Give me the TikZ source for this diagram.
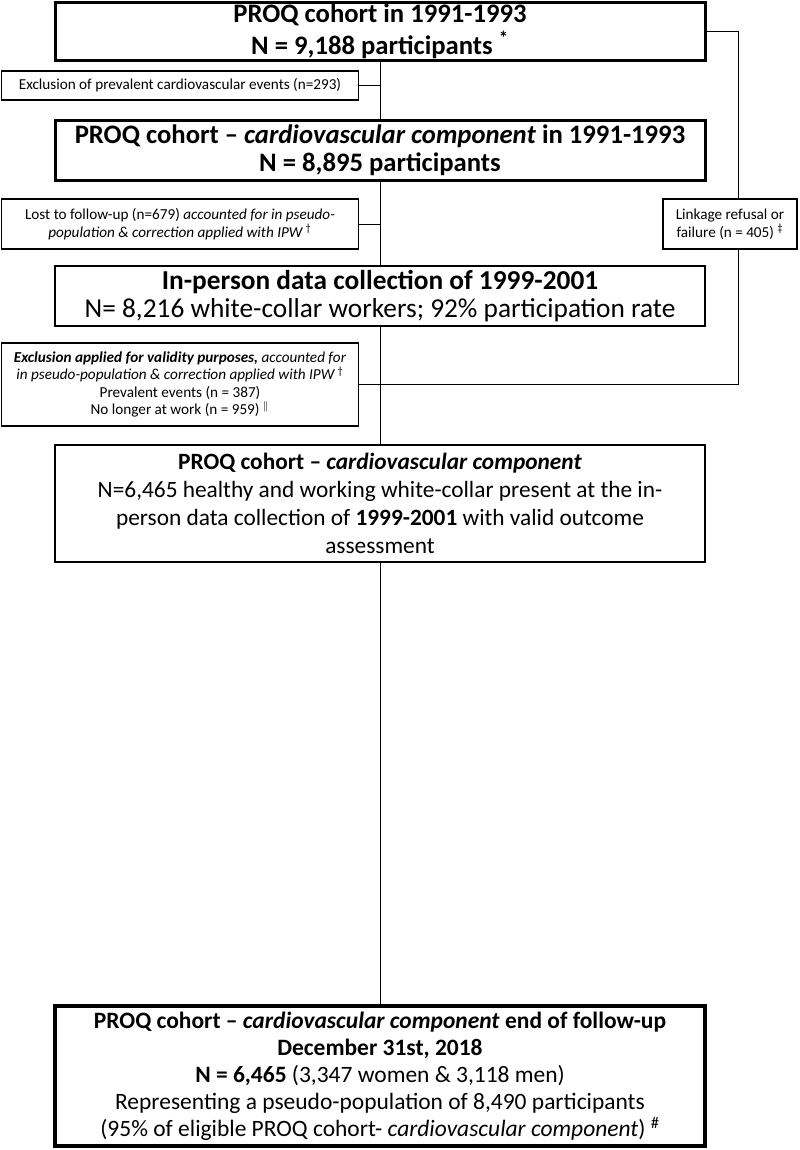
\documentclass[tikz,border=0pt]{standalone}
\usepackage{fontspec}
\setmainfont{Carlito}
\begin{document}
\begin{tikzpicture}[x=0.75pt, y=-0.75pt,
  mainbox/.style={draw, line width=1pt, fill=white, align=center, inner sep=1pt, minimum width=487.5pt},
  sidebox/.style={draw, line width=1pt, fill=white, align=center, inner sep=1pt, font=\fontsize{11.4}{13.2}\selectfont},
  conn/.style={line width=0.75pt}]
  \useasboundingbox (0,0) rectangle (800,1150);

  % Main column
  \node[mainbox, line width=2.25pt, minimum height=43.5pt, font=\fontsize{20}{24}\selectfont\bfseries] (box1) at (380,31)
    {PROQ cohort in 1991-1993\\N = 9,188 participants \textsuperscript{*}};
  \node[mainbox, line width=2.25pt, minimum height=45pt, font=\fontsize{20}{21}\selectfont\bfseries] (box2) at (380,150)
    {PROQ cohort – \textit{cardiovascular component} in 1991-1993\\N = 8,895 participants};
  \node[mainbox, minimum height=45pt, font=\fontsize{20.5}{21.5}\selectfont] (box3) at (380,296)
    {\textbf{In-person data collection of 1999-2001}\\N= 8,216 white-collar workers; 92\% participation rate};
  \node[mainbox, minimum height=87.75pt, font=\fontsize{17.5}{21}\selectfont] (box5) at (380,503.5)
    {\textbf{PROQ cohort – \textit{cardiovascular component}}\\
     N=6,465 healthy and working white-collar present at the in-\\
     person data collection of \textbf{1999-2001} with valid outcome\\
     assessment};
  \node[mainbox, line width=3pt, minimum height=105pt, font=\fontsize{17.6}{20.3}\selectfont] (box6) at (380,1076)
    {\textbf{PROQ cohort – \textit{cardiovascular component} end of follow-up}\\
     \textbf{December 31st, 2018}\\
     \textbf{N = 6,465} (3,347 women \& 3,118 men)\\
     Representing a pseudo-population of 8,490 participants\\
     (95\% of eligible PROQ cohort- \textit{cardiovascular component}) \textsuperscript{\#}};

  % Exclusions
  \node[sidebox, minimum width=267.75pt, minimum height=21.75pt] (excl1) at (180,85.5)
    {Exclusion of prevalent cardiovascular events (n=293)};
  \node[sidebox, minimum width=267.75pt, minimum height=37.5pt] (lost) at (180,224)
    {Lost to follow-up (n=679) \textit{accounted for in pseudo-}\\
     \textit{population \& correction applied with IPW}\,\textsuperscript{†}};
  \node[sidebox, minimum width=100.5pt, minimum height=37.5pt] (linkage) at (730,224)
    {Linkage refusal or\\failure (n = 405) \textsuperscript{‡}};
  \node[sidebox, minimum width=267.75pt, minimum height=62.25pt] (excl2) at (180,384.5)
    {\textbf{\textit{Exclusion applied for validity purposes,}} \textit{accounted for}\\
     \textit{in pseudo-population \& correction applied with IPW}\,\textsuperscript{†}\\
     Prevalent events (n = 387)\\
     No longer at work (n = 959) \textsuperscript{$\|$}};

  % Connectors
  \draw[conn] (box1) -- (box2);
  \draw[conn] (box2) -- (box3);
  \draw[conn] (box3) -- (box5);
  \draw[conn] (box5) -- (box6);
  \draw[conn] (excl1.east) -- (excl1 -| box1);
  \draw[conn] (lost.east) -- (lost -| box1);
  \draw[conn] (excl2.east) -- (excl2 -| box1);

  % Linkage branch on the right
  \coordinate (rturn) at (738,31);
  \draw[conn] (box1.east) -- (rturn) -- (rturn |- linkage.north);
  \draw[conn] (rturn |- linkage.south) -- (rturn |- excl2) -- (excl2 -| box1);
\end{tikzpicture}
\end{document}
